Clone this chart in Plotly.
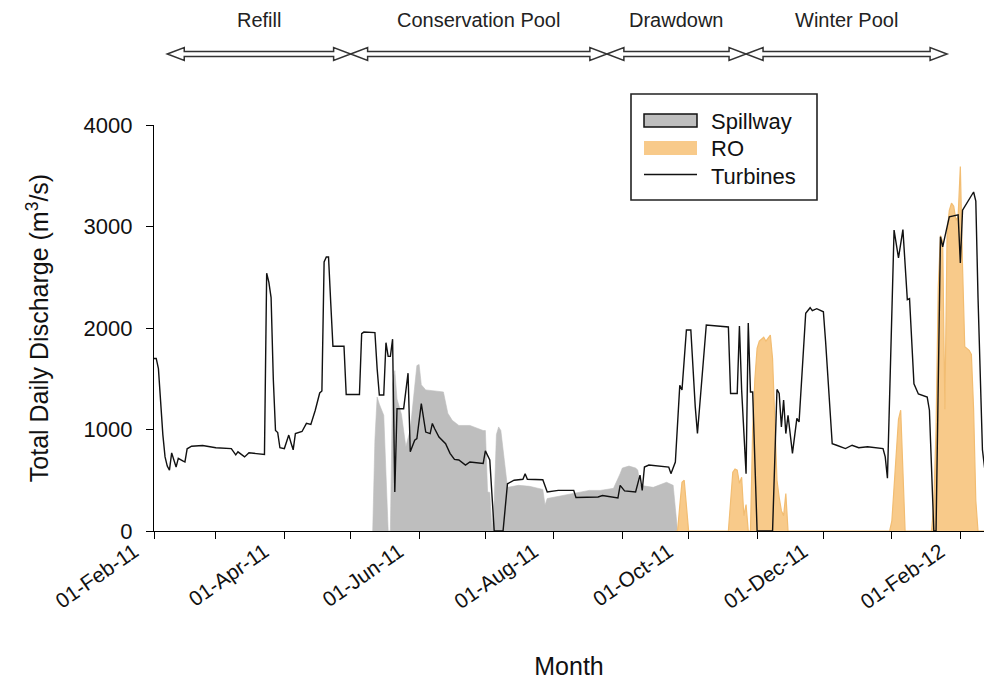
import pandas as pd
import plotly.graph_objects as go

# ---------------- data ----------------
turb_dates = [
    "2011-02-01", "2011-02-02", "2011-02-03", "2011-02-04", "2011-02-05", "2011-02-06",
    "2011-02-07", "2011-02-08", "2011-02-09", "2011-02-10", "2011-02-11", "2011-02-12",
    "2011-02-13", "2011-02-14", "2011-02-15", "2011-02-16", "2011-02-18", "2011-02-23",
    "2011-03-01", "2011-03-08", "2011-03-10", "2011-03-11", "2011-03-14", "2011-03-16",
    "2011-03-23", "2011-03-24", "2011-03-25", "2011-03-26", "2011-03-27", "2011-03-28",
    "2011-03-29", "2011-03-30", "2011-04-01", "2011-04-03", "2011-04-04", "2011-04-05",
    "2011-04-06", "2011-04-08", "2011-04-09", "2011-04-11", "2011-04-13", "2011-04-15",
    "2011-04-17", "2011-04-18", "2011-04-19", "2011-04-20", "2011-04-21", "2011-04-22",
    "2011-04-23", "2011-04-28", "2011-04-29", "2011-05-05", "2011-05-06", "2011-05-07",
    "2011-05-12", "2011-05-13", "2011-05-14", "2011-05-16", "2011-05-17", "2011-05-18",
    "2011-05-19", "2011-05-20", "2011-05-21", "2011-05-22", "2011-05-25", "2011-05-27",
    "2011-05-28", "2011-05-30", "2011-05-31", "2011-06-02", "2011-06-04", "2011-06-06",
    "2011-06-07", "2011-06-08", "2011-06-10", "2011-06-13", "2011-06-15", "2011-06-17",
    "2011-06-19", "2011-06-22", "2011-06-24", "2011-06-30", "2011-07-01", "2011-07-03",
    "2011-07-05", "2011-07-09", "2011-07-11", "2011-07-14", "2011-07-18", "2011-07-19",
    "2011-07-20", "2011-07-27", "2011-07-29", "2011-08-03", "2011-08-10", "2011-08-11",
    "2011-08-21", "2011-08-23", "2011-08-30", "2011-08-31", "2011-09-02", "2011-09-07",
    "2011-09-09", "2011-09-10", "2011-09-11", "2011-09-13", "2011-09-22", "2011-09-23",
    "2011-09-25", "2011-09-27", "2011-09-28", "2011-09-30", "2011-10-02", "2011-10-04",
    "2011-10-05", "2011-10-09", "2011-10-19", "2011-10-20", "2011-10-23", "2011-10-24",
    "2011-10-25", "2011-10-27", "2011-10-28", "2011-10-29", "2011-10-30", "2011-11-01",
    "2011-11-08", "2011-11-10", "2011-11-11", "2011-11-12", "2011-11-13", "2011-11-14",
    "2011-11-15", "2011-11-17", "2011-11-19", "2011-11-20", "2011-11-23", "2011-11-25",
    "2011-11-26", "2011-11-28", "2011-12-01", "2011-12-02", "2011-12-05", "2011-12-07",
    "2011-12-11", "2011-12-14", "2011-12-17", "2011-12-21", "2011-12-28", "2011-12-29",
    "2011-12-30", "2012-01-02", "2012-01-04", "2012-01-06", "2012-01-08", "2012-01-09",
    "2012-01-11", "2012-01-13", "2012-01-17", "2012-01-18", "2012-01-20", "2012-01-21",
    "2012-01-23", "2012-01-24", "2012-01-26", "2012-01-27", "2012-01-31", "2012-02-01",
    "2012-02-02", "2012-02-07", "2012-02-08", "2012-02-09", "2012-02-11", "2012-02-12",
]
turb_vals = [
    1700, 1700, 1600, 1250, 950, 730,
    640, 600, 770, 700, 630, 715,
    700, 690, 680, 810, 835, 842,
    820, 812, 750, 780, 730, 770,
    755, 2540, 2450, 2300, 1500, 990,
    970, 820, 812, 945, 870, 800,
    960, 975, 980, 1060, 1050, 1190,
    1360, 1380, 2650, 2700, 2700, 2250,
    1820, 1820, 1345, 1345, 1945, 1960,
    1955, 1600, 1340, 1340, 1855, 1720,
    1720, 1890, 385, 1205, 1205, 1555,
    780, 895, 910, 1255, 975, 960,
    1060, 1010, 925, 860, 765, 705,
    700, 650, 680, 665, 790, 700,
    0, 0, 465, 500, 510, 565,
    510, 505, 385, 400, 400, 330,
    335, 350, 325, 450, 395, 385,
    550, 400, 630, 650, 630, 565,
    680, 1435, 1390, 1980, 1980, 1225,
    960, 2030, 2010, 1355, 1355, 2020,
    1390, 565, 2050, 1370, 1370, 0,
    0, 1395, 1355, 1025, 1290, 960,
    1140, 765, 1110, 1075, 2145, 2200,
    2170, 2190, 2160, 1870, 860, 845,
    812, 845, 820, 830, 812, 730,
    520, 2965, 2690, 2970, 2280, 2290,
    1450, 1350, 1320, 1190, 0, 0,
    2900, 2800, 3015, 3095, 3115, 2640,
    3160, 3340, 3250, 2300, 800, 620,
]

spill_dates = [
    "2011-05-11", "2011-05-12", "2011-05-13", "2011-05-14", "2011-05-16", "2011-05-17",
    "2011-05-18", "2011-05-19", "2011-05-20", "2011-05-21", "2011-05-22", "2011-05-24",
    "2011-05-26", "2011-05-28", "2011-05-30", "2011-05-31", "2011-06-01", "2011-06-02",
    "2011-06-04", "2011-06-12", "2011-06-14", "2011-06-16", "2011-06-19", "2011-06-24",
    "2011-06-30", "2011-07-01", "2011-07-02", "2011-07-03", "2011-07-04", "2011-07-05",
    "2011-07-06", "2011-07-07", "2011-07-08", "2011-07-09", "2011-07-10", "2011-07-11",
    "2011-07-16", "2011-07-21", "2011-07-27", "2011-07-28", "2011-07-29", "2011-08-05",
    "2011-08-10", "2011-08-17", "2011-08-22", "2011-08-28", "2011-08-31", "2011-09-01",
    "2011-09-04", "2011-09-07", "2011-09-08", "2011-09-09", "2011-09-15", "2011-09-21",
    "2011-09-24", "2011-09-25", "2011-09-26",
]
spill_vals = [
    0, 900, 1320, 1250, 1140, 500,
    0, 0, 1450, 1580, 1300, 1150,
    830, 1000, 1400, 1630, 1640, 1440,
    1390, 1370, 1160, 1090, 1040, 1040,
    990, 990, 385, 380, 0, 300,
    950, 1025, 990, 800, 600, 430,
    450, 440, 410, 255, 320, 350,
    365, 400, 400, 420, 565, 620,
    640, 620, 600, 450, 430, 480,
    450, 200, 0,
]

ro_dates = [
    "2011-09-25", "2011-09-26", "2011-09-27", "2011-09-28", "2011-09-29", "2011-09-30",
    "2011-10-01", "2011-10-19", "2011-10-20", "2011-10-21", "2011-10-22", "2011-10-23",
    "2011-10-24", "2011-10-25", "2011-10-26", "2011-10-27", "2011-10-28", "2011-10-29",
    "2011-10-30", "2011-10-31", "2011-11-01", "2011-11-02", "2011-11-04", "2011-11-05",
    "2011-11-06", "2011-11-07", "2011-11-08", "2011-11-09", "2011-11-10", "2011-11-11",
    "2011-11-12", "2011-11-13", "2011-11-14", "2011-11-15", "2011-12-31", "2012-01-01",
    "2012-01-02", "2012-01-03", "2012-01-04", "2012-01-05", "2012-01-06", "2012-01-07",
    "2012-01-19", "2012-01-20", "2012-01-21", "2012-01-22", "2012-01-23", "2012-01-24",
    "2012-01-25", "2012-01-26", "2012-01-27", "2012-01-28", "2012-01-29", "2012-01-30",
    "2012-01-31", "2012-02-01", "2012-02-02", "2012-02-03", "2012-02-05", "2012-02-06",
    "2012-02-07", "2012-02-08", "2012-02-09", "2012-02-12",
]
ro_vals = [
    0, 0, 250, 480, 500, 200,
    0, 0, 300, 580, 610, 600,
    470, 530, 150, 260, 0, 0,
    1000, 1500, 1800, 1870, 1910, 1870,
    1900, 1930, 1700, 1150, 500, 330,
    200, 150, 370, 0, 0, 100,
    400, 700, 1100, 1190, 600, 0,
    0, 270, 1000, 2400, 2910, 2850,
    1200, 2935, 3160, 3230, 3200, 3060,
    3100, 3590, 2600, 1815, 1780, 1740,
    1200, 300, 0, 0,
]

phase_names = ["Refill", "Conservation Pool", "Drawdown", "Winter Pool"]
phase_bounds = ["2011-02-07", "2011-05-01", "2011-08-25", "2011-10-27", "2012-01-26"]

legend_labels = ["Spillway", "RO", "Turbines"]

# ---------------- styling / geometry ----------------
W, H = 984, 681
M_L, M_R, M_T, M_B = 154, 0, 125, 150
PLOT_W = W - M_L - M_R
PLOT_H = H - M_T - M_B
X_START = pd.Timestamp("2011-02-01")
X_END = pd.Timestamp("2012-02-11 17:00")

FONT = "Liberation Sans, Arial, Helvetica, sans-serif"
GREY = "#bebebe"
ORANGE = "#f8ca8a"
INK = "#111111"


def xpaper_date(d):
    t = pd.Timestamp(d)
    return (t - X_START) / (X_END - X_START)


def xp(px):
    return (px - M_L) / PLOT_W


def yp(py):
    return (H - M_B - py) / PLOT_H


fig = go.Figure()

fig.add_trace(go.Scatter(
    x=spill_dates, y=spill_vals, name=legend_labels[0], mode="lines",
    fill="tozeroy", fillcolor=GREY, line=dict(color=GREY, width=0.6),
    showlegend=False,
))
fig.add_trace(go.Scatter(
    x=ro_dates, y=ro_vals, name=legend_labels[1], mode="lines",
    fill="tozeroy", fillcolor=ORANGE, line=dict(color="#f2bd72", width=1.2),
    showlegend=False,
))
fig.add_trace(go.Scatter(
    x=turb_dates, y=turb_vals, name=legend_labels[2], mode="lines",
    line=dict(color=INK, width=1.4),
    showlegend=False,
))

shapes = []
annotations = []

# phase arrows (hollow, double-headed) above the plot
arrow_y = yp(54)
head_len = 17 / PLOT_W
head_half = 6.5 / PLOT_H
shaft_half = 2.4 / PLOT_H
for i, name in enumerate(phase_names):
    x0 = xpaper_date(phase_bounds[i])
    x1 = xpaper_date(phase_bounds[i + 1])
    pts = [
        (x0, arrow_y),
        (x0 + head_len, arrow_y + head_half),
        (x0 + head_len, arrow_y + shaft_half),
        (x1 - head_len, arrow_y + shaft_half),
        (x1 - head_len, arrow_y + head_half),
        (x1, arrow_y),
        (x1 - head_len, arrow_y - head_half),
        (x1 - head_len, arrow_y - shaft_half),
        (x0 + head_len, arrow_y - shaft_half),
        (x0 + head_len, arrow_y - head_half),
    ]
    path = "M " + " L ".join(f"{a:.5f},{b:.5f}" for a, b in pts) + " Z"
    shapes.append(dict(type="path", xref="paper", yref="paper", path=path,
                       fillcolor="white", line=dict(color="#333333", width=1.5)))
    annotations.append(dict(
        x=(x0 + x1) / 2, y=yp(20), xref="paper", yref="paper",
        text=name, showarrow=False, xanchor="center", yanchor="middle",
        font=dict(family=FONT, size=20, color="#222222"),
    ))

# legend box
shapes.append(dict(type="rect", xref="paper", yref="paper",
                   x0=xp(631), x1=xp(817), y0=yp(200), y1=yp(94),
                   fillcolor="white", line=dict(color="#222222", width=1.6)))
shapes.append(dict(type="rect", xref="paper", yref="paper",
                   x0=xp(644), x1=xp(697), y0=yp(127), y1=yp(114),
                   fillcolor=GREY, line=dict(color="#111111", width=1.5)))
shapes.append(dict(type="rect", xref="paper", yref="paper",
                   x0=xp(644), x1=xp(697), y0=yp(155), y1=yp(141),
                   fillcolor=ORANGE, line=dict(width=0)))
shapes.append(dict(type="line", xref="paper", yref="paper",
                   x0=xp(644), x1=xp(697), y0=yp(174.5), y1=yp(174.5),
                   line=dict(color=INK, width=1.4)))
for label, ycen in zip(legend_labels, [121, 148, 176]):
    annotations.append(dict(
        x=xp(709), y=yp(ycen), xref="paper", yref="paper", text=label,
        showarrow=False, xanchor="left", yanchor="middle",
        font=dict(family=FONT, size=22, color="#111111"),
    ))

fig.update_layout(
    width=W, height=H,
    margin=dict(l=M_L, r=M_R, t=M_T, b=M_B, autoexpand=False),
    paper_bgcolor="white", plot_bgcolor="white",
    font=dict(family=FONT, color="#111111"),
    showlegend=False,
    shapes=shapes, annotations=annotations,
)

fig.update_xaxes(
    type="date", range=[X_START, X_END],
    tick0="2011-02-01", dtick="M2", tickformat="%d-%b-%y",
    ticks="outside", ticklen=7, tickwidth=1.3, tickcolor="black",
    tickangle=-35, tickfont=dict(family=FONT, size=21, color="#111111"),
    ticklabelshift=-20, ticklabelstandoff=-8,
    minor=dict(ticks="outside", dtick="M1", ticklen=7, tickwidth=1.3,
               tickcolor="black", showgrid=False),
    showline=True, linecolor="black", linewidth=1.4,
    showgrid=False, zeroline=False,
    title=dict(text="Month", standoff=45,
               font=dict(family=FONT, size=25, color="#111111")),
)
fig.update_yaxes(
    range=[0, 4000], tickvals=[0, 1000, 2000, 3000, 4000],
    ticks="outside", ticklen=7, tickwidth=1.3, tickcolor="black",
    tickfont=dict(family=FONT, size=22, color="#111111"),
    ticklabelstandoff=9,
    showline=True, linecolor="black", linewidth=1.4,
    showgrid=False, zeroline=False,
    title=dict(text="Total Daily Discharge (m<sup>3</sup>/s)", standoff=27,
               font=dict(family=FONT, size=25, color="#111111")),
)

fig.write_html("out.html")
